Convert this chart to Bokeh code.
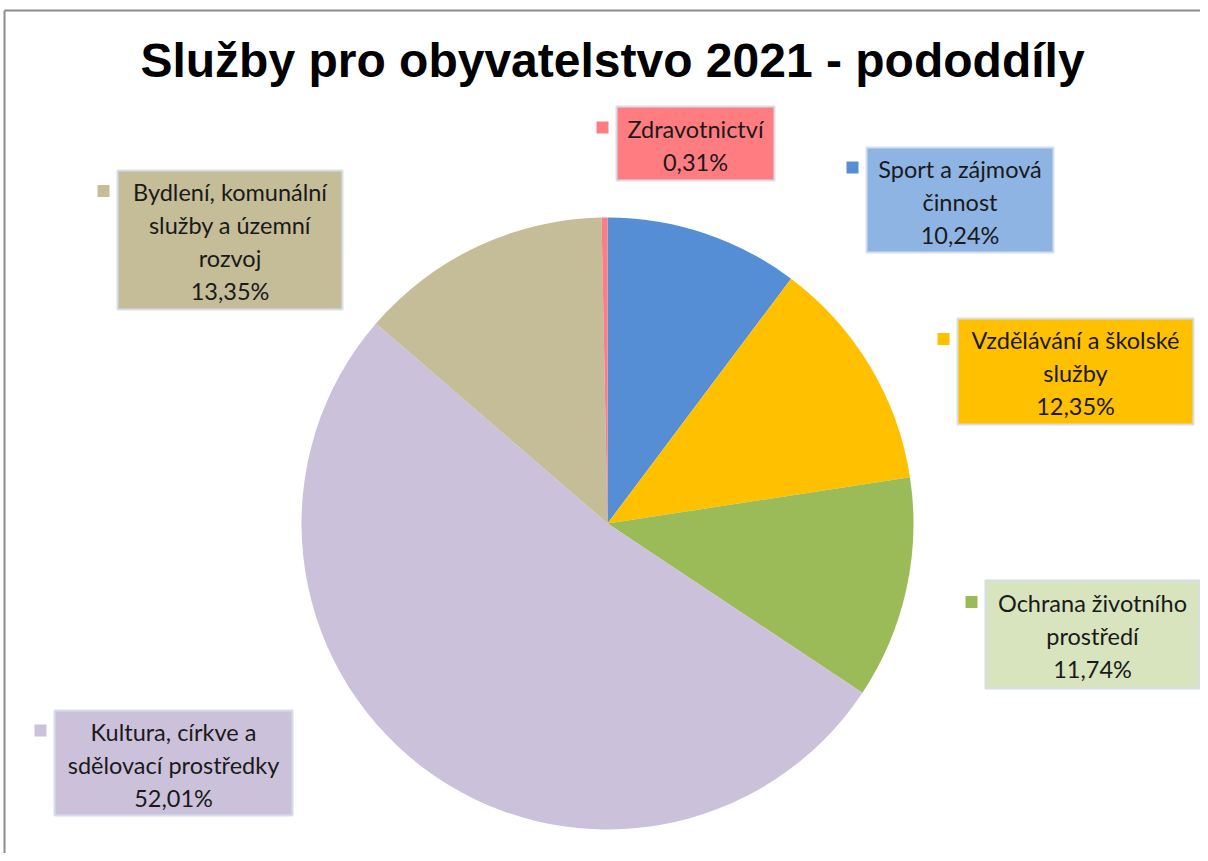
import math
from bokeh.plotting import figure
from bokeh.models import Range1d
from bokeh.core.properties import value
from bokeh.embed import file_html
from bokeh.resources import INLINE

# ---- data (clockwise from 12 o'clock) ----
categories = ["Sport a zájmová činnost", "Vzdělávání a školské služby",
              "Ochrana životního prostředí", "Kultura, církve a sdělovací prostředky",
              "Bydlení, komunální služby a územní rozvoj", "Zdravotnictví"]
label_lines = [["Sport a zájmová", "činnost"],
               ["Vzdělávání a školské", "služby"],
               ["Ochrana životního", "prostředí"],
               ["Kultura, církve a", "sdělovací prostředky"],
               ["Bydlení, komunální", "služby a územní", "rozvoj"],
               ["Zdravotnictví"]]
shares = [10.24, 12.35, 11.74, 52.01, 13.35, 0.31]
slice_colors = ["#558ED5", "#FFC000", "#9BBB59", "#CCC1DA", "#C4BD97", "#FF7C80"]
box_colors = ["#8EB4E3", "#FFC000", "#D7E4BD", "#CCC1DA", "#C4BD97", "#FF7C80"]
title = "Služby pro obyvatelstvo 2021 - pododdíly"

# ---- layout (screen pixel coords -> data) ----
W, H = 1200, 853
def X(px): return px
def Y(py): return H - py

# label box layout: left, right, top, bottom (screen px)
boxes = [(866, 1053, 147, 252), (957, 1193, 318, 424), (985, 1199, 580, 688),
         (54, 292, 710, 815), (117, 342, 170, 309), (616, 774, 106, 180)]

p = figure(width=W, height=H, output_backend="svg", toolbar_location=None,
           x_range=Range1d(0, W), y_range=Range1d(0, H), min_border=0,
           outline_line_color=None)
p.axis.visible = False
p.grid.visible = False
p.background_fill_color = "white"
p.border_fill_color = "white"

# chart frame (top + left edges)
p.line([X(4), X(1200)], [Y(10), Y(10)], line_color="#8C8C8C", line_width=2)
p.line([X(4), X(4)], [Y(10), Y(853)], line_color="#8C8C8C", line_width=2)

# pie
cx, cy, r = X(607), Y(523), 306
total = sum(shares)
starts, ends = [], []
cum = 0.0
for s in shares:
    starts.append(math.pi / 2 - 2 * math.pi * cum / total)
    cum += s
    ends.append(math.pi / 2 - 2 * math.pi * cum / total)
p.wedge(x=[cx] * len(shares), y=[cy] * len(shares), radius=r,
        start_angle=starts, end_angle=ends, direction="clock",
        fill_color=slice_colors, line_color=None)

# labels
font = value("Lato")
lh = 33
for i, (l, rr, t, b) in enumerate(boxes):
    p.quad(left=X(l), right=X(rr), top=Y(t), bottom=Y(b),
           fill_color=box_colors[i], line_color="#D5DEEA", line_width=2)
    lines = label_lines[i] + [f"{shares[i]:.2f}".replace(".", ",") + "%"]
    n = len(lines)
    cyb = (t + b) / 2 + 1.5
    xs = (l + rr) / 2
    for k, txt in enumerate(lines):
        py = cyb + (k - (n - 1) / 2) * lh
        p.text(x=[X(xs)], y=[Y(py)], text=[txt], text_font=font,
               text_font_size="23.5px", text_align="center",
               text_baseline="middle", text_color="#1A1A1A")
    # legend key square
    ky = cyb - (n - 1) / 2 * lh - 1
    p.rect(x=[X(l - 14)], y=[Y(ky)], width=12, height=12,
           fill_color=slice_colors[i], line_color=None)

p.text(x=[X(612)], y=[Y(60)], text=[title], text_font=value("Liberation Sans"),
       text_font_style="bold", text_font_size="48px", text_align="center",
       text_baseline="middle", text_color="black")

open("out.html", "w").write(file_html(p, INLINE))
